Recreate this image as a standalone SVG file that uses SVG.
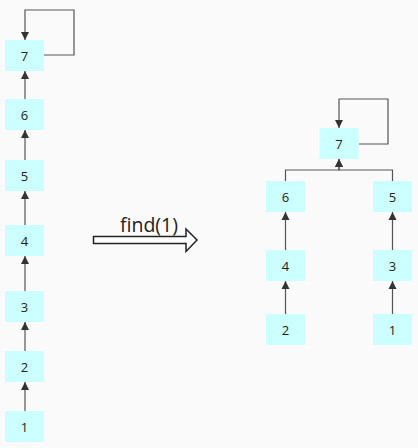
<svg xmlns="http://www.w3.org/2000/svg" width="418" height="448" viewBox="0 0 418 448">
<style>
.bg{fill:#fafafa}
.node rect{fill:#ccffff}
.node text{font-family:"Open Sans","Noto Sans",sans-serif;font-size:13px;fill:#222;text-anchor:middle;dominant-baseline:central}
.edge{fill:none;stroke:#555;stroke-width:1.2}
.label{font-family:"Open Sans","Noto Sans",sans-serif;font-size:19.5px;fill:#222}
</style>
<defs>
<marker id="ah" markerWidth="8" markerHeight="10" refX="8" refY="4" orient="auto" markerUnits="userSpaceOnUse" viewBox="0 0 8 8">
<path d="M0,0 L8,4 L0,8 Z" fill="#333"/>
</marker>
</defs>
<rect class="bg" x="0" y="0" width="418" height="448"/>
<g id="connectors">
<path class="edge" d="M44,55 H74 V10 H25 V40" marker-end="url(#ah)"/>
<path class="edge" d="M25,99 V71" marker-end="url(#ah)"/>
<path class="edge" d="M25,160 V130" marker-end="url(#ah)"/>
<path class="edge" d="M25,225 V191" marker-end="url(#ah)"/>
<path class="edge" d="M25,291 V256" marker-end="url(#ah)"/>
<path class="edge" d="M25,351 V322" marker-end="url(#ah)"/>
<path class="edge" d="M25,411 V382" marker-end="url(#ah)"/>
<path class="edge" d="M359,144 H388 V99 H339 V128" marker-end="url(#ah)"/>
<path class="edge" d="M285.5,181 V170 H339 V159" marker-end="url(#ah)"/>
<path class="edge" d="M392.5,181 V170 H339 V159" marker-end="url(#ah)"/>
<path class="edge" d="M285.5,250 V212" marker-end="url(#ah)"/>
<path class="edge" d="M285.5,314 V281" marker-end="url(#ah)"/>
<path class="edge" d="M392.5,250 V212" marker-end="url(#ah)"/>
<path class="edge" d="M392.5,314 V281" marker-end="url(#ah)"/>
</g>
<g id="find-arrow">
<path d="M93.5,236.5 H186 V229 L197,240 L186,251.5 V243.5 H93.5 Z" fill="#fff" stroke="#222" stroke-width="1.5"/>
<text class="label" x="120" y="232">find(1)</text>
</g>
<g id="L7" class="node"><rect x="5" y="40" width="39" height="31"/><text x="24.5" y="55.5">7</text></g>
<g id="L6" class="node"><rect x="5" y="99" width="39" height="31"/><text x="24.5" y="114.5">6</text></g>
<g id="L5" class="node"><rect x="5" y="160" width="39" height="31"/><text x="24.5" y="175.5">5</text></g>
<g id="L4" class="node"><rect x="5" y="225" width="39" height="31"/><text x="24.5" y="240.5">4</text></g>
<g id="L3" class="node"><rect x="5" y="291" width="39" height="31"/><text x="24.5" y="306.5">3</text></g>
<g id="L2" class="node"><rect x="5" y="351" width="39" height="31"/><text x="24.5" y="366.5">2</text></g>
<g id="L1" class="node"><rect x="5" y="411" width="39" height="31"/><text x="24.5" y="426.5">1</text></g>
<g id="R7" class="node"><rect x="319.5" y="128" width="39" height="31"/><text x="339" y="143.5">7</text></g>
<g id="R6" class="node"><rect x="266" y="181" width="39" height="31"/><text x="285.5" y="196.5">6</text></g>
<g id="R5" class="node"><rect x="373" y="181" width="39" height="31"/><text x="392.5" y="196.5">5</text></g>
<g id="R4" class="node"><rect x="266" y="250" width="39" height="31"/><text x="285.5" y="265.5">4</text></g>
<g id="R3" class="node"><rect x="373" y="250" width="39" height="31"/><text x="392.5" y="265.5">3</text></g>
<g id="R2" class="node"><rect x="266" y="314" width="39" height="31"/><text x="285.5" y="329.5">2</text></g>
<g id="R1" class="node"><rect x="373" y="314" width="39" height="31"/><text x="392.5" y="329.5">1</text></g>
</svg>
